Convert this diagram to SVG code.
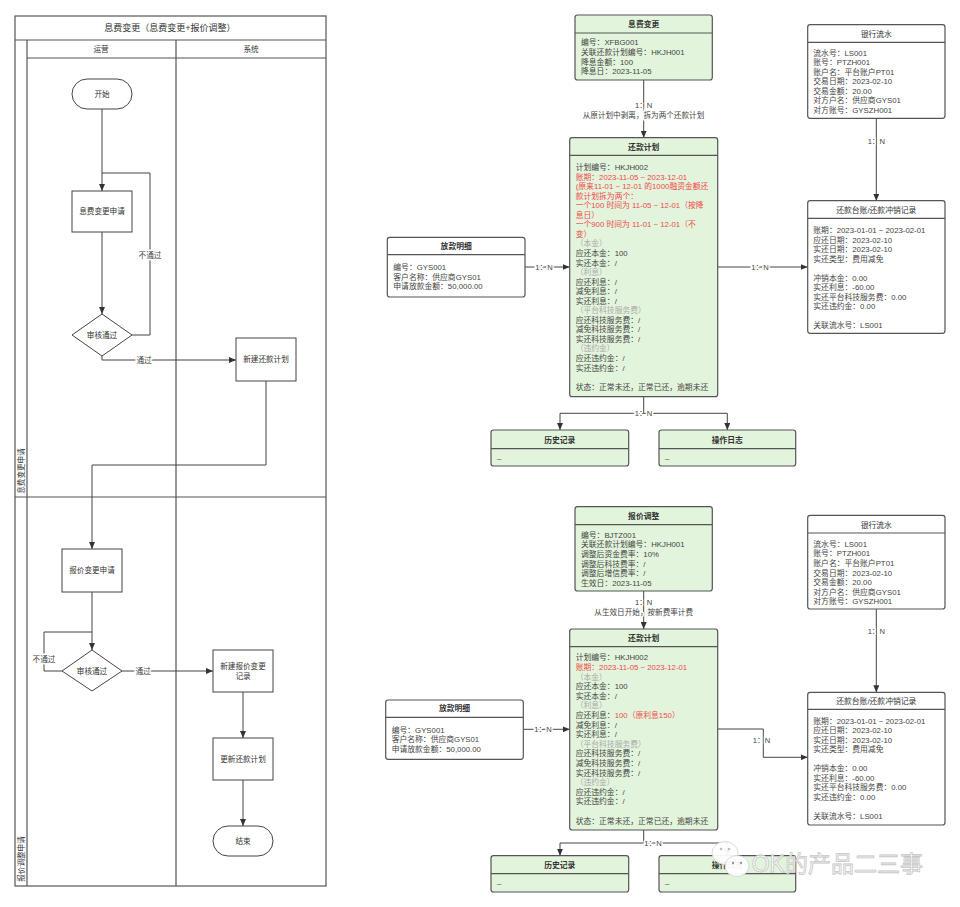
<svg xmlns="http://www.w3.org/2000/svg" width="960" height="907" viewBox="0 0 960 907">
<defs>
<style>
text{font-family:"Liberation Sans","Noto Sans CJK SC",sans-serif;dominant-baseline:central}
.ln{fill:none;stroke:#555;stroke-width:1.2}
.nd{fill:#fff;stroke:#444;stroke-width:1}
.e{fill:none;stroke:#444;stroke-width:1}
.ea{fill:none;stroke:#444;stroke-width:1;marker-end:url(#ah)}
.lt{font-size:7.6px;fill:#333;text-anchor:middle}
.lb{font-size:7.6px;fill:#444;text-anchor:middle;stroke:#fff;stroke-width:3;paint-order:stroke}
.bg{fill:#e3f4dc;stroke:#555;stroke-width:1.2}
.bw{fill:#fff;stroke:#555;stroke-width:1.2}
.hd{stroke:#555;stroke-width:1.2}
.tt{font-size:7.8px;font-weight:bold;fill:#333;text-anchor:middle}
.tn{font-size:7.8px;fill:#333;text-anchor:middle}
.bd{font-size:7.8px;fill:#444}
.r{fill:#ee4a4a}
.g{fill:#aaa}
</style>
<marker id="ah" viewBox="0 0 7 6" refX="7" refY="3" markerWidth="7" markerHeight="6" markerUnits="userSpaceOnUse" orient="auto">
<path d="M0,0 L7,3 L0,6 z" fill="#333"/>
</marker>
</defs>
<rect width="960" height="907" fill="#fff"/>

<!-- Swimlane frame -->
<g id="swimlane">
<rect class="ln" x="15" y="16" width="311" height="870"/>
<line class="ln" x1="15" y1="40" x2="326" y2="40"/>
<line class="ln" x1="27" y1="58" x2="326" y2="58"/>
<line class="ln" x1="27" y1="40" x2="27" y2="886"/>
<line class="ln" x1="176" y1="40" x2="176" y2="886"/>
<line class="ln" x1="15" y1="497" x2="326" y2="497"/>
<text x="170" y="28" style="font-size:9px;fill:#333;text-anchor:middle">息费变更（息费变更+报价调整）</text>
<text x="101" y="49" class="lt">运营</text>
<text x="251" y="49" class="lt">系统</text>
<text transform="translate(21,471) rotate(-90)" class="lt">息费变更申请</text>
<text transform="translate(21,859) rotate(-90)" class="lt">报价调整申请</text>
</g>

<!-- Flow connectors -->
<g id="flow-connectors">
<path class="ea" d="M102,109 V191"/>
<path class="ea" d="M102,232 V314"/>
<path class="e" d="M132,335 H150 V173 H102"/>
<path class="ea" d="M102,356 V360 H236"/>
<path class="ea" d="M266,381 V465 H92 V549"/>
<path class="ea" d="M92,592 V650"/>
<path class="e" d="M62,671 H44 V632 H92"/>
<path class="ea" d="M122,671 H213"/>
<path class="ea" d="M243,692 V738"/>
<path class="ea" d="M243,780 V826"/>
<text x="150" y="255" class="lb">不通过</text>
<text x="144" y="360" class="lb">通过</text>
<text x="44" y="659" class="lb">不通过</text>
<text x="143" y="671" class="lb">通过</text>
</g>

<g id="n-start"><rect class="nd" x="72" y="79" width="60" height="30" rx="15"/><text x="102" y="94" class="lt">开始</text></g>
<g id="n-apply1"><rect class="nd" x="72" y="191" width="60" height="41"/><text x="102" y="211.5" class="lt">息费变更申请</text></g>
<g id="n-check1"><polygon class="nd" points="102,314 132,335 102,356 72,335"/><text x="102" y="335" class="lt">审核通过</text></g>
<g id="n-newplan"><rect class="nd" x="236" y="338" width="60" height="43"/><text x="266" y="359.5" class="lt">新建还款计划</text></g>
<g id="n-apply2"><rect class="nd" x="62" y="549" width="60" height="43"/><text x="92" y="570.5" class="lt">报价变更申请</text></g>
<g id="n-check2"><polygon class="nd" points="92,650 122,671 92,691 62,671"/><text x="92" y="671" class="lt">审核通过</text></g>
<g id="n-newrec"><rect class="nd" x="213" y="650" width="60" height="42"/><text x="243" y="666" class="lt">新建报价变更</text><text x="243" y="676" class="lt">记录</text></g>
<g id="n-update"><rect class="nd" x="213" y="738" width="60" height="42"/><text x="243" y="759" class="lt">更新还款计划</text></g>
<g id="n-end"><rect class="nd" x="213" y="826" width="60" height="30" rx="15"/><text x="243" y="841" class="lt">结束</text></g>

<!-- ER connectors -->
<g id="er-connectors">
<path class="ea" d="M643.7,80 V137.7"/>
<text x="643.7" y="105.7" class="lb">1：N</text>
<text x="643.5" y="115.3" class="lb">从原计划中剥离，拆为两个还款计划</text>
<path class="ea" d="M525,267 H569.7"/>
<text x="544" y="267" class="lb">1：N</text>
<path class="ea" d="M717.7,267 H807.7"/>
<text x="760" y="267" class="lb">1：N</text>
<path class="ea" d="M876.3,118.3 V200.7"/>
<text x="876.3" y="141" class="lb">1：N</text>
<path class="ea" d="M643.7,396.7 V413.3 H560 V430"/>
<path class="ea" d="M643.7,413.3 H727.3 V430"/>
<text x="643.5" y="413.3" class="lb">1：N</text>

<path class="ea" d="M643.7,591 V629"/>
<text x="643.7" y="602.3" class="lb">1：N</text>
<text x="643.7" y="612.3" class="lb">从生效日开始，按新费率计费</text>
<path class="ea" d="M523.3,729.3 H569.7"/>
<text x="543" y="729.3" class="lb">1：N</text>
<path class="ea" d="M717.7,729 H763.3 V757.3 H807.7"/>
<text x="761.5" y="740.7" class="lb">1：N</text>
<path class="ea" d="M876.3,609 V692.3"/>
<text x="876.3" y="631.7" class="lb">1：N</text>
<path class="ea" d="M643.7,830 V843 H560 V855.7"/>
<path class="ea" d="M643.7,843 H727.3 V855.7"/>
<text x="653" y="843" class="lb">1：N</text>
</g>

<!-- Top ER section -->
<g id="e-xfbg">
<rect class="bg" x="575" y="15" width="137.3" height="65" rx="2.5"/>
<line class="hd" x1="575" y1="33" x2="712.3" y2="33"/>
<text x="643.7" y="24.3" class="tt">息费变更</text>
<text class="bd"><tspan x="581" y="42.3">编号：XFBG001</tspan><tspan x="581" dy="9.7">关联还款计划编号：HKJH001</tspan><tspan x="581" dy="9.7">降息金额：100</tspan><tspan x="581" dy="9.7">降息日：2023-11-05</tspan></text>
</g>

<g id="e-plan1">
<rect class="bg" x="569.7" y="137.7" width="148" height="259" rx="2.5"/>
<line class="hd" x1="569.7" y1="155.3" x2="717.7" y2="155.3"/>
<text x="643.7" y="147" class="tt">还款计划</text>
<text class="bd"><tspan x="575.7" y="167">计划编号：HKJH002</tspan><tspan x="575.7" dy="9.55" class="r">账期：2023-11-05 ~ 2023-12-01</tspan><tspan x="575.7" dy="9.55" class="r">(原来11-01 ~ 12-01 的1000融资金额还</tspan><tspan x="575.7" dy="9.55" class="r">款计划拆为两个：</tspan><tspan x="575.7" dy="9.55" class="r">一个100 时间为 11-05 ~ 12-01（按降</tspan><tspan x="575.7" dy="9.55" class="r">息日）</tspan><tspan x="575.7" dy="9.55" class="r">一个900 时间为 11-01 ~ 12-01（不</tspan><tspan x="575.7" dy="9.55" class="r">变）</tspan><tspan x="575.7" dy="9.55" class="g">（本金）</tspan><tspan x="575.7" dy="9.55">应还本金：100</tspan><tspan x="575.7" dy="9.55">实还本金：/</tspan><tspan x="575.7" dy="9.55" class="g">（利息）</tspan><tspan x="575.7" dy="9.55">应还利息：/</tspan><tspan x="575.7" dy="9.55">减免利息：/</tspan><tspan x="575.7" dy="9.55">实还利息：/</tspan><tspan x="575.7" dy="9.55" class="g">（平台科技服务费）</tspan><tspan x="575.7" dy="9.55">应还科技服务费：/</tspan><tspan x="575.7" dy="9.55">减免科技服务费：/</tspan><tspan x="575.7" dy="9.55">实还科技服务费：/</tspan><tspan x="575.7" dy="9.55" class="g">（违约金）</tspan><tspan x="575.7" dy="9.55">应还违约金：/</tspan><tspan x="575.7" dy="9.55">实还违约金：/</tspan><tspan x="575.7" dy="19.1">状态：正常未还，正常已还，逾期未还</tspan></text>
</g>

<g id="e-loan1">
<rect class="bw" x="387.3" y="237.3" width="137.7" height="59.7" rx="2.5"/>
<line class="hd" x1="387.3" y1="254.7" x2="525" y2="254.7"/>
<text x="456.2" y="246.5" class="tt">放款明细</text>
<text class="bd"><tspan x="393.3" y="267.3">编号：GYS001</tspan><tspan x="393.3" dy="9.5">客户名称：供应商GYS01</tspan><tspan x="393.3" dy="9.5">申请放款金额：50,000.00</tspan></text>
</g>

<g id="e-bank1">
<rect class="bw" x="807.7" y="24.7" width="137.3" height="93.6" rx="2.5"/>
<line class="hd" x1="807.7" y1="42.3" x2="945" y2="42.3"/>
<text x="876.3" y="34" class="tn">银行流水</text>
<text class="bd"><tspan x="813.3" y="52.7">流水号：LS001</tspan><tspan x="813.3" dy="9.55">账号：PTZH001</tspan><tspan x="813.3" dy="9.55">账户名：平台账户PT01</tspan><tspan x="813.3" dy="9.55">交易日期：2023-02-10</tspan><tspan x="813.3" dy="9.55">交易金额：20.00</tspan><tspan x="813.3" dy="9.55">对方户名：供应商GYS01</tspan><tspan x="813.3" dy="9.55">对方账号：GYSZH001</tspan></text>
</g>

<g id="e-ledger1">
<rect class="bw" x="807.7" y="200.7" width="137.3" height="132.6" rx="2.5"/>
<line class="hd" x1="807.7" y1="218.3" x2="945" y2="218.3"/>
<text x="876.3" y="210" class="tn">还款台账/还款冲销记录</text>
<text class="bd"><tspan x="813.3" y="230">账期：2023-01-01 ~ 2023-02-01</tspan><tspan x="813.3" dy="9.5">应还日期：2023-02-10</tspan><tspan x="813.3" dy="9.5">实还日期：2023-02-10</tspan><tspan x="813.3" dy="9.5">实还类型：费用减免</tspan><tspan x="813.3" dy="19">冲销本金：0.00</tspan><tspan x="813.3" dy="9.5">实还利息：-60.00</tspan><tspan x="813.3" dy="9.5">实还平台科技服务费：0.00</tspan><tspan x="813.3" dy="9.5">实还违约金：0.00</tspan><tspan x="813.3" dy="19">关联流水号：LS001</tspan></text>
</g>

<g id="e-hist1">
<rect class="bg" x="491" y="430" width="137.7" height="36" rx="2.5"/>
<line class="hd" x1="491" y1="448.7" x2="628.7" y2="448.7"/>
<text x="559.8" y="440" class="tt">历史记录</text>
<text x="497" y="458" class="bd">–</text>
</g>

<g id="e-log1">
<rect class="bg" x="659" y="430" width="136.7" height="36" rx="2.5"/>
<line class="hd" x1="659" y1="448.7" x2="795.7" y2="448.7"/>
<text x="727.3" y="440" class="tt">操作日志</text>
<text x="665" y="458" class="bd">–</text>
</g>

<!-- Bottom ER section -->
<g id="e-bjtz">
<rect class="bg" x="575" y="506.7" width="137.3" height="84.3" rx="2.5"/>
<line class="hd" x1="575" y1="524.7" x2="712.3" y2="524.7"/>
<text x="643.7" y="516" class="tt">报价调整</text>
<text class="bd"><tspan x="581" y="534.7">编号：BJTZ001</tspan><tspan x="581" dy="9.6">关联还款计划编号：HKJH001</tspan><tspan x="581" dy="9.6">调整后资金费率：10%</tspan><tspan x="581" dy="9.6">调整后科技费率：/</tspan><tspan x="581" dy="9.6">调整后增信费率：/</tspan><tspan x="581" dy="9.6">生效日：2023-11-05</tspan></text>
</g>

<g id="e-plan2">
<rect class="bg" x="569.7" y="629" width="148" height="201" rx="2.5"/>
<line class="hd" x1="569.7" y1="646.7" x2="717.7" y2="646.7"/>
<text x="643.7" y="638" class="tt">还款计划</text>
<text class="bd"><tspan x="575.7" y="657.3">计划编号：HKJH002</tspan><tspan x="575.7" dy="9.6" class="r">账期：2023-11-05 ~ 2023-12-01</tspan><tspan x="575.7" dy="9.6" class="g">（本金）</tspan><tspan x="575.7" dy="9.6">应还本金：100</tspan><tspan x="575.7" dy="9.6">实还本金：/</tspan><tspan x="575.7" dy="9.6" class="g">（利息）</tspan><tspan x="575.7" dy="9.6">应还利息：</tspan><tspan class="r">100（原利息150）</tspan><tspan x="575.7" dy="9.6">减免利息：/</tspan><tspan x="575.7" dy="9.6">实还利息：/</tspan><tspan x="575.7" dy="9.6" class="g">（平台科技服务费）</tspan><tspan x="575.7" dy="9.6">应还科技服务费：/</tspan><tspan x="575.7" dy="9.6">减免科技服务费：/</tspan><tspan x="575.7" dy="9.6">实还科技服务费：/</tspan><tspan x="575.7" dy="9.6" class="g">（违约金）</tspan><tspan x="575.7" dy="9.6">应还违约金：/</tspan><tspan x="575.7" dy="9.6">实还违约金：/</tspan><tspan x="575.7" dy="19.2">状态：正常未还，正常已还，逾期未还</tspan></text>
</g>

<g id="e-loan2">
<rect class="bw" x="385.7" y="700" width="137.6" height="59.3" rx="2.5"/>
<line class="hd" x1="385.7" y1="717.3" x2="523.3" y2="717.3"/>
<text x="454.5" y="708.7" class="tt">放款明细</text>
<text class="bd"><tspan x="391.7" y="729.7">编号：GYS001</tspan><tspan x="391.7" dy="9.5">客户名称：供应商GYS01</tspan><tspan x="391.7" dy="9.5">申请放款金额：50,000.00</tspan></text>
</g>

<g id="e-bank2">
<rect class="bw" x="807.7" y="515.3" width="137.3" height="93.7" rx="2.5"/>
<line class="hd" x1="807.7" y1="533" x2="945" y2="533"/>
<text x="876.3" y="525" class="tn">银行流水</text>
<text class="bd"><tspan x="813.3" y="543.7">流水号：LS001</tspan><tspan x="813.3" dy="9.6">账号：PTZH001</tspan><tspan x="813.3" dy="9.6">账户名：平台账户PT01</tspan><tspan x="813.3" dy="9.6">交易日期：2023-02-10</tspan><tspan x="813.3" dy="9.6">交易金额：20.00</tspan><tspan x="813.3" dy="9.6">对方户名：供应商GYS01</tspan><tspan x="813.3" dy="9.6">对方账号：GYSZH001</tspan></text>
</g>

<g id="e-ledger2">
<rect class="bw" x="807.7" y="692.3" width="137.3" height="132.7" rx="2.5"/>
<line class="hd" x1="807.7" y1="709.3" x2="945" y2="709.3"/>
<text x="876.3" y="701" class="tn">还款台账/还款冲销记录</text>
<text class="bd"><tspan x="813.3" y="720.7">账期：2023-01-01 ~ 2023-02-01</tspan><tspan x="813.3" dy="9.5">应还日期：2023-02-10</tspan><tspan x="813.3" dy="9.5">实还日期：2023-02-10</tspan><tspan x="813.3" dy="9.5">实还类型：费用减免</tspan><tspan x="813.3" dy="19">冲销本金：0.00</tspan><tspan x="813.3" dy="9.5">实还利息：-60.00</tspan><tspan x="813.3" dy="9.5">实还平台科技服务费：0.00</tspan><tspan x="813.3" dy="9.5">实还违约金：0.00</tspan><tspan x="813.3" dy="19">关联流水号：LS001</tspan></text>
</g>

<g id="e-hist2">
<rect class="bg" x="491" y="855.7" width="137.7" height="36.3" rx="2.5"/>
<line class="hd" x1="491" y1="873.7" x2="628.7" y2="873.7"/>
<text x="559.8" y="865.3" class="tt">历史记录</text>
<text x="497" y="883.5" class="bd">–</text>
</g>

<g id="e-log2">
<rect class="bg" x="659" y="855.7" width="136.7" height="36.3" rx="2.5"/>
<line class="hd" x1="659" y1="873.7" x2="795.7" y2="873.7"/>
<text x="727.3" y="865.3" class="tt">操作日志</text>
<text x="665" y="883.5" class="bd">–</text>
</g>

<!-- Watermark -->
<g id="watermark" opacity="0.95">
<ellipse cx="725" cy="853" rx="13" ry="11.5" fill="#fff" stroke="#cfcfcf" stroke-width="0.8"/>
<circle cx="721" cy="849" r="1.3" fill="#bbb"/>
<circle cx="729" cy="849" r="1.3" fill="#bbb"/>
<ellipse cx="737" cy="866" rx="12" ry="10.5" fill="#fff" stroke="#cfcfcf" stroke-width="0.8"/>
<circle cx="733" cy="863" r="1.2" fill="#999"/>
<circle cx="741" cy="863" r="1.2" fill="#999"/>
<text x="751.7" y="864.3" style="font-size:23px;fill:#fff;stroke:#c4c4c4;stroke-width:0.8">OK的产品二三事</text>
</g>
</svg>
